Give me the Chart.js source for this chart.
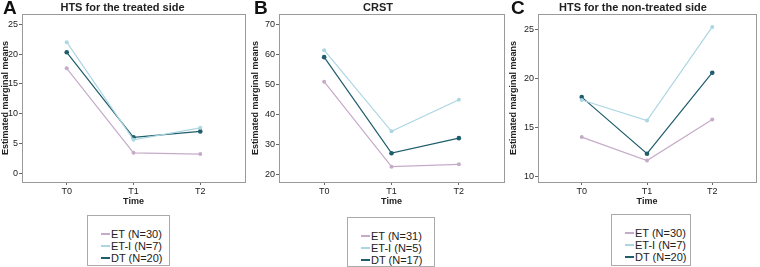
<!DOCTYPE html>
<html>
<head>
<meta charset="utf-8">
<script src="https://cdn.jsdelivr.net/npm/chart.js@4/dist/chart.umd.min.js"></script>
<style>
  body { margin:0; width:760px; height:267px; background:#fff; position:relative; overflow:hidden;
         font-family:"Liberation Sans", Arial, sans-serif; }
  canvas { position:absolute; top:0; }
  .letter { position:absolute; top:-3px; font-weight:bold; font-size:19px; color:#111; }
  .legend { position:absolute; border:1px solid #aaa; background:#fff; box-sizing:border-box; }
  .legend div { position:absolute; font-size:11px; color:#222; white-space:nowrap; line-height:12px; }
  .legend span { display:inline-block; width:9px; height:2px; vertical-align:middle; margin-right:1px; position:relative; top:-1px; }
</style>
</head>
<body>
<canvas id="chartA" width="250" height="210" style="left:0;width:250px;height:210px"></canvas>
<canvas id="chartB" width="258" height="210" style="left:250px;width:258px;height:210px"></canvas>
<canvas id="chartC" width="252" height="210" style="left:508px;width:252px;height:210px"></canvas>
<div class="letter" style="left:3px">A</div>
<div class="letter" style="left:254px">B</div>
<div class="letter" style="left:511px">C</div>
<div class="legend" id="legA" style="left:87px;top:215px;width:83px;height:51px"></div>
<div class="legend" id="legB" style="left:347px;top:217px;width:88px;height:50px"></div>
<div class="legend" id="legC" style="left:611px;top:214px;width:80px;height:52px"></div>
<script>
// values
const timeLabels = ['T0', 'T1', 'T2'];
const groupColors = ['#c6abc9', '#acd6e2', '#1f5d6c'];

const namesA = ['ET (N=30)', 'ET-I (N=7)', 'DT (N=20)'];
const htsTreatedET  = [17.6, 3.4, 3.2];
const htsTreatedETI = [22.0, 5.6, 7.6];
const htsTreatedDT  = [20.3, 6.0, 7.0];

const namesB = ['ET (N=31)', 'ET-I (N=5)', 'DT (N=17)'];
const crstET  = [50.8, 22.5, 23.3];
const crstETI = [61.3, 34.3, 44.8];
const crstDT  = [59.0, 27.0, 32.0];

const namesC = ['ET (N=30)', 'ET-I (N=7)', 'DT (N=20)'];
const htsNonET  = [14.0, 11.6, 15.8];
const htsNonETI = [17.8, 15.7, 25.3];
const htsNonDT  = [18.1, 12.3, 20.6];

const FONT = '"Liberation Sans", Arial, sans-serif';

// grey box round the plot area
const framePlugin = {
    id: 'frame',
    afterDraw(chart) {
        const a = chart.chartArea, c = chart.ctx;
        c.save();
        c.strokeStyle = '#9a9a9a';
        c.lineWidth = 1;
        c.strokeRect(Math.round(a.left) + 0.5, Math.round(a.top) + 0.5,
                     Math.round(a.right - a.left), Math.round(a.bottom - a.top));
        c.restore();
    }
};

function makeChart(id, title, names, series, yMin, yMax, yStep, yWidth, padRight) {
    const datasets = series.map((vals, i) => ({
        label: names[i],
        data: vals.map((v, k) => ({x: k, y: v})),
        borderColor: groupColors[i],
        backgroundColor: groupColors[i],
        borderWidth: 1.2,
        pointRadius: i === 2 ? 2.3 : 2,
        pointBorderWidth: 0,
        tension: 0
    }));
    return new Chart(document.getElementById(id), {
        type: 'line',
        data: { datasets },
        plugins: [framePlugin],
        options: {
            responsive: false,
            animation: false,
            layout: { padding: { left: 0, right: padRight, top: 0, bottom: 0 } },
            plugins: {
                legend: { display: false },
                tooltip: { enabled: false },
                title: {
                    display: true, text: title, color: '#222',
                    font: { family: FONT, size: 11, weight: 'bold' },
                    padding: { top: 1, bottom: 0 }
                }
            },
            scales: {
                x: {
                    type: 'linear', min: -0.67, max: 2.67,
                    afterFit: s => { s.height = 28; },
                    afterBuildTicks: s => { s.ticks = s.ticks.filter(t => Number.isInteger(t.value)); },
                    ticks: {
                        stepSize: 1, includeBounds: false, color: '#222', padding: 1,
                        font: { family: FONT, size: 9 },
                        callback: v => timeLabels[v]
                    },
                    grid: { drawOnChartArea: false, tickLength: 3, color: '#666' },
                    border: { display: false },
                    title: {
                        display: true, text: 'Time', color: '#222',
                        font: { family: FONT, size: 9, weight: 'bold' },
                        padding: { top: 0, bottom: 3 }
                    }
                },
                y: {
                    min: yMin, max: yMax,
                    afterFit: s => { s.width = yWidth; },
                    ticks: {
                        stepSize: yStep, includeBounds: false, color: '#222', padding: 1,
                        font: { family: FONT, size: 9 }
                    },
                    grid: { drawOnChartArea: false, tickLength: 3, color: '#666' },
                    border: { display: false },
                    title: {
                        display: true, text: 'Estimated marginal means', color: '#222',
                        font: { family: FONT, size: 9, weight: 'bold' },
                        padding: { top: 0, bottom: 0 }
                    }
                }
            }
        }
    });
}

function makeLegend(id, names) {
    const box = document.getElementById(id);
    names.forEach((n, i) => {
        const row = document.createElement('div');
        row.style.left = '13px';
        row.style.top = (12 + i * 12) + 'px';
        row.innerHTML = `<span style="background:${groupColors[i]}"></span>${n}`;
        box.appendChild(row);
    });
}

makeChart('chartA', 'HTS for the treated side', namesA,
    [htsTreatedET, htsTreatedETI, htsTreatedDT], -1.5, 26.7, 5, 22, 5);
makeChart('chartB', 'CRST', namesB,
    [crstET, crstETI, crstDT], 17.4, 73.3, 10, 29, 2);
makeChart('chartC', 'HTS for the non-treated side', namesC,
    [htsNonET, htsNonETI, htsNonDT], 9.4, 26.6, 5, 30, 2);

makeLegend('legA', namesA);
makeLegend('legB', namesB);
makeLegend('legC', namesC);
</script>
</body>
</html>
